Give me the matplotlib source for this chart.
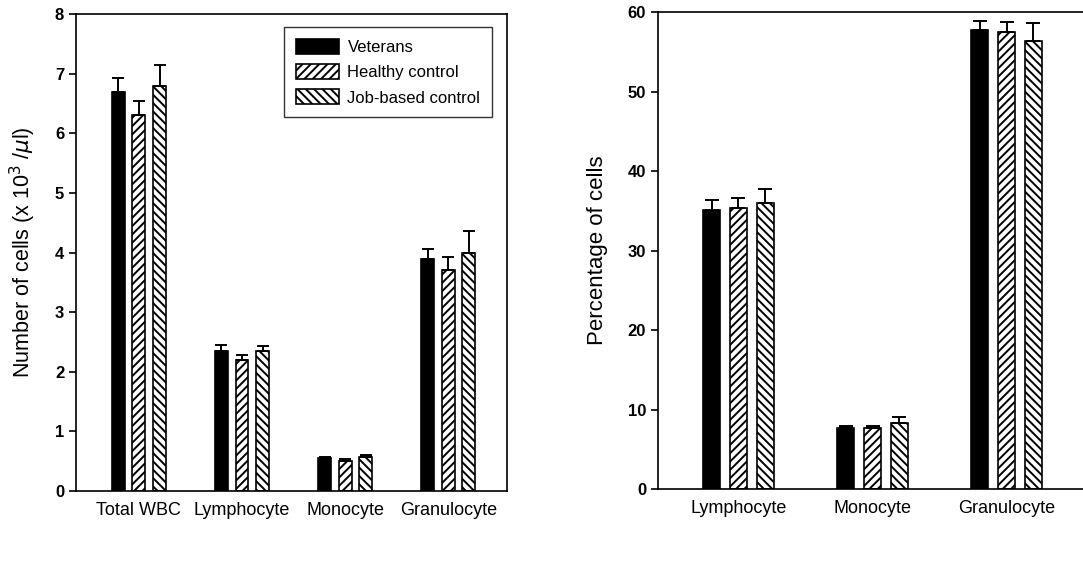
import numpy as np
import matplotlib.pyplot as plt

plt.rcParams['font.family'] = ['Liberation Sans', 'DejaVu Sans']
plt.rcParams['hatch.linewidth'] = 1.4

groups = ['Veterans', 'Healthy control', 'Job-based control']
hatches = ['', '////', '\\\\\\\\']
colors = ['black', 'white', 'white']

# left panel: absolute counts (x 10^3 / ul)
count_cats = ['Total WBC', 'Lymphocyte', 'Monocyte', 'Granulocyte']
count_vals = [
    [6.70, 2.35, 0.55, 3.90],
    [6.30, 2.20, 0.51, 3.70],
    [6.80, 2.35, 0.57, 4.00],
]
count_err = [
    [0.23, 0.10, 0.02, 0.16],
    [0.25, 0.08, 0.02, 0.22],
    [0.35, 0.09, 0.04, 0.37],
]

# right panel: percentages
pct_cats = ['Lymphocyte', 'Monocyte', 'Granulocyte']
pct_vals = [
    [35.1, 7.7, 57.7],
    [35.4, 7.7, 57.5],
    [36.0, 8.35, 56.3],
]
pct_err = [
    [1.2, 0.25, 1.2],
    [1.2, 0.2, 1.3],
    [1.8, 0.7, 2.3],
]


def draw_panel(ax, cats, vals, errs, width, step, capsize):
    x = np.arange(len(cats))
    for i in range(3):
        pos = x + (i - 1) * step
        v = np.array(vals[i])
        e = np.array(errs[i])
        ax.bar(pos, v, width, color=colors[i], edgecolor='black', hatch=hatches[i],
               linewidth=1.2, label=groups[i], zorder=2)
        ax.errorbar(pos, v, yerr=[np.zeros_like(e), e], fmt='none', ecolor='black',
                    elinewidth=1.4, capsize=capsize, capthick=1.4, zorder=3)
    ax.set_xticks(x)
    ax.set_xticklabels(cats, fontsize=13)
    ax.tick_params(axis='x', length=0, pad=8)
    ax.tick_params(axis='y', direction='out', length=5, width=1.2, labelsize=12)
    for lbl in ax.get_yticklabels():
        lbl.set_fontweight('bold')
    for s in ax.spines.values():
        s.set_linewidth(1.2)


fig = plt.figure(figsize=(10.83, 5.61), dpi=100)

ax1 = fig.add_axes([0.0702, 0.1248, 0.398, 0.850])
draw_panel(ax1, count_cats, count_vals, count_err, 0.125, 0.2, 4)
ax1.set_xlim(-0.61, 3.57)
ax1.set_ylim(0, 8)
ax1.set_yticks(range(0, 9))
ax1.set_ylabel(r'Number of cells (x 10$^3$ /$\mu$l)', fontsize=15.5, labelpad=12)
leg = ax1.legend(loc='upper right', bbox_to_anchor=(0.965, 0.973), fontsize=12,
                 frameon=True, fancybox=False, edgecolor='black', handlelength=2.6,
                 handleheight=1.0, borderpad=0.7, labelspacing=0.55, handletextpad=0.5,
                 borderaxespad=0)
leg.get_frame().set_linewidth(1.0)

ax2 = fig.add_axes([0.6076, 0.1283, 0.3924, 0.8503])
draw_panel(ax2, pct_cats, pct_vals, pct_err, 0.125, 0.2, 5)
ax2.set_xlim(-0.6, 2.57)
ax2.set_ylim(0, 60)
ax2.set_yticks(range(0, 61, 10))
ax2.spines['right'].set_visible(False)
ax2.set_ylabel('Percentage of cells', fontsize=16, labelpad=14)

fig.savefig('out.png', dpi=100)
